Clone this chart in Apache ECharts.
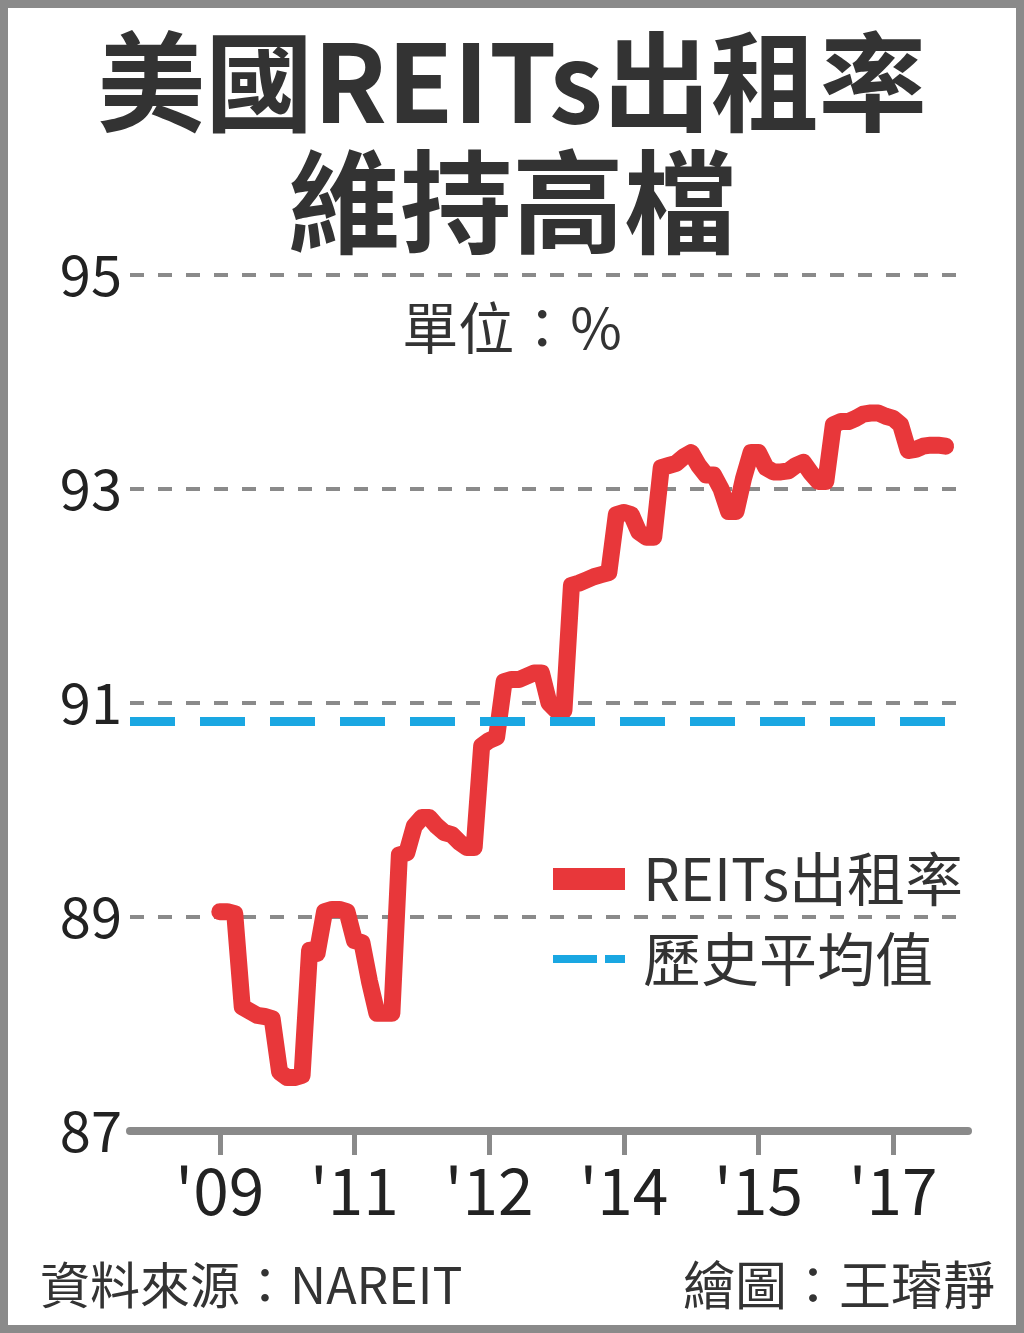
<!DOCTYPE html>
<html><head><meta charset="utf-8">
<script src="https://cdn.jsdelivr.net/npm/echarts@6/dist/echarts.min.js"></script>
<style>html,body{margin:0;padding:0;background:#fff}#c{width:1024px;height:1333px}</style>
</head><body><div id="c"></div>
<script>
// ---- data ----
const axisStart = [2008, 1];          // first month on the category axis
const axisMonths = 113;               // 2008-01 .. 2017-05
const tickMonths = ['2009-01', '2010-07', '2012-01', '2013-07', '2015-01', '2016-07'];
const tickLabels = ["'09", "'11", "'12", "'14", "'15", "'17"];
const occupancyStart = '2009-01';
// REITs occupancy rate (%), monthly reading of the chart, 2009-01 .. 2017-02
const occupancy = [
  89.05, 89.05, 89.03, 88.16, 88.12, 88.08, 88.07, 88.05, 87.55, 87.50, 87.50, 87.52,
  88.69, 88.66, 89.05, 89.07, 89.07, 89.05, 88.78, 88.76, 88.40, 88.10, 88.10, 88.10,
  89.58, 89.60, 89.85, 89.93, 89.93, 89.85, 89.79, 89.77, 89.70, 89.65, 89.65, 90.60,
  90.65, 90.68, 91.20, 91.22, 91.22, 91.25, 91.28, 91.28, 91.00, 90.93, 90.93, 92.10,
  92.12, 92.15, 92.18, 92.20, 92.22, 92.76, 92.78, 92.76, 92.60, 92.55, 92.55, 93.20,
  93.22, 93.24, 93.30, 93.34, 93.22, 93.13, 93.13, 93.00, 92.79, 92.79, 93.10, 93.34,
  93.34, 93.20, 93.16, 93.16, 93.17, 93.22, 93.25, 93.15, 93.07, 93.07, 93.60, 93.63,
  93.63, 93.66, 93.70, 93.71, 93.71, 93.68, 93.66, 93.60, 93.36, 93.37, 93.40, 93.41,
  93.41, 93.40
];
const historicalAverage = 90.83;
const averageFrom = '2008-01';
const averageTo = '2017-02';
const yMin = 87, yMax = 95, yStep = 2;
const seriesNames = ['REITs出租率', '歷史平均值'];

// ---- build ----
const categories = [];
for (let i = 0; i < axisMonths; i++) {
  const t = axisStart[0] * 12 + (axisStart[1] - 1) + i;
  const y = Math.floor(t / 12), m = t % 12 + 1;
  categories.push(y + '-' + (m < 10 ? '0' + m : m));
}
const startIdx = categories.indexOf(occupancyStart);
const occData = categories.map((c, i) => {
  const k = i - startIdx;
  return (k >= 0 && k < occupancy.length) ? occupancy[k] : null;
});
const tickIdx = tickMonths.map(t => categories.indexOf(t));
const labelOf = {};
tickMonths.forEach((t, i) => labelOf[t] = tickLabels[i]);

const FF = '"Noto Sans CJK TC", "Noto Sans", sans-serif';
const chart = echarts.init(document.getElementById('c'));
chart.setOption({
  animation: false,
  backgroundColor: '#fff',
  textStyle: { fontFamily: FF },
  grid: { left: 130, right: 56, top: 275, bottom: 202, containLabel: false },
  xAxis: {
    type: 'category', data: categories, boundaryGap: false,
    axisLine: { lineStyle: { color: '#8a8a8a', width: 8 } },
    axisTick: { interval: (i) => tickIdx.includes(i), length: 24, lineStyle: { color: '#8a8a8a', width: 5 } },
    axisLabel: { interval: (i) => tickIdx.includes(i), formatter: (v) => labelOf[v] || '',
      fontSize: 64, color: '#222', margin: 28, fontFamily: FF },
    splitLine: { show: false }
  },
  yAxis: {
    type: 'value', min: yMin, max: yMax, interval: yStep,
    axisLine: { show: false }, axisTick: { show: false },
    axisLabel: { fontSize: 56, color: '#222', margin: 8, fontFamily: FF },
    splitLine: { lineStyle: { color: '#8a8a8a', width: 4, type: [14, 14] } }
  },
  legend: {
    orient: 'vertical', left: 548, top: 843,
    itemWidth: 72, itemHeight: 22, itemGap: 18,
    textStyle: { fontSize: 58, color: '#333', lineHeight: 62, fontFamily: FF, padding: [0, 0, 0, 13] },
    selectedMode: false,
    data: [
      { name: seriesNames[0], icon: 'rect' },
      { name: seriesNames[1], icon: 'path://M0,0M0,7H44V15H0ZM52,7H72V15H52ZM72,22' }
    ]
  },
  series: [
    {
      name: seriesNames[0], type: 'line', data: occData, symbol: 'none', z: 3,
      color: '#e8373a',
      lineStyle: { color: '#e8373a', width: 17, cap: 'round', join: 'round' },
      emphasis: { disabled: true }
    },
    {
      name: seriesNames[1], type: 'line', data: [], symbol: 'none', color: '#1aa7e2', z: 4,
      markLine: {
        silent: true, symbol: ['none', 'none'], label: { show: false },
        lineStyle: { color: '#1aa7e2', width: 9, type: [45, 25], cap: 'butt' },
        emphasis: { disabled: true },
        data: [[{ coord: [averageFrom, historicalAverage] }, { coord: [averageTo, historicalAverage] }]]
      }
    }
  ],
  graphic: [
    { type: 'rect', silent: true, shape: { x: 4, y: 4, width: 1016, height: 1325 },
      style: { fill: 'none', stroke: '#8a8a8a', lineWidth: 8 } },
    { type: 'text', x: 512, y: 82, style: { text: '美國REITs出租率', fill: '#333',
      font: 'bold 108px ' + FF, align: 'center', verticalAlign: 'middle' } },
    { type: 'text', x: 512, y: 202, style: { text: '維持高檔', fill: '#333',
      font: 'bold 112px ' + FF, align: 'center', verticalAlign: 'middle' } },
    { type: 'text', x: 512, y: 328, style: { text: '單位：%', fill: '#333',
      font: '56px ' + FF, align: 'center', verticalAlign: 'middle' } },
    { type: 'text', x: 40, y: 1285, style: { text: '資料來源：NAREIT', fill: '#333',
      font: '50px ' + FF, align: 'left', verticalAlign: 'middle' } },
    { type: 'text', x: 995, y: 1285, style: { text: '繪圖：王璿靜', fill: '#333',
      font: '52px ' + FF, align: 'right', verticalAlign: 'middle' } }
  ]
});
</script></body></html>
